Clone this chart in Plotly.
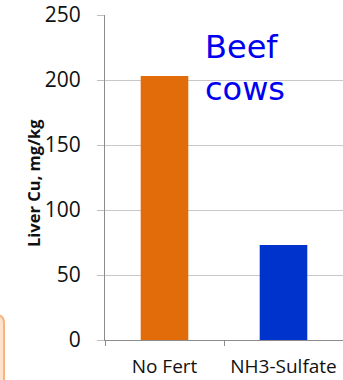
import plotly.graph_objects as go

# Liver copper by fertiliser treatment
treatments = ["No Fert", "NH3-Sulfate"]
liver_cu = [203, 73]
bar_colors = ["#E36C0A", "#0033CC"]
y_ticks = [0, 50, 100, 150, 200, 250]

W, H = 343, 380
L, R, T, B = 105, 0, 15, 40
plot_w = W - L - R
plot_h = H - T - B


def px_x(p):
    return (p - L) / plot_w


def px_y(p):
    return (H - B - p) / plot_h


fig = go.Figure(
    go.Bar(
        x=treatments,
        y=liver_cu,
        marker=dict(color=bar_colors, line=dict(width=0)),
        width=0.4,
    )
)

# corner of a rounded callout box peeking in at the lower left
x0, x1 = px_x(-12), px_x(4)
yt, yb = px_y(315), px_y(400)
rx, ry = 8 / plot_w, 8 / plot_h
fig.add_shape(
    type="path",
    xref="paper",
    yref="paper",
    path=(
        f"M {x0},{yb} L {x0},{yt} L {x1 - rx},{yt} "
        f"Q {x1},{yt} {x1},{yt - ry} L {x1},{yb} Z"
    ),
    fillcolor="#FDE3CB",
    line=dict(color="#F8B47C", width=2),
    layer="above",
)

fig.add_annotation(
    text="Beef<br>cows",
    xref="paper",
    yref="paper",
    x=px_x(203),
    y=px_y(26),
    xanchor="left",
    yanchor="top",
    align="left",
    showarrow=False,
    font=dict(family="Comic Sans MS, DejaVu Sans", size=32, color="#0000F0"),
)

fig.add_annotation(
    text="<b>Liver Cu, mg/kg</b>",
    xref="paper",
    yref="paper",
    x=px_x(33),
    y=px_y(183),
    xanchor="center",
    yanchor="middle",
    textangle=-90,
    showarrow=False,
    font=dict(family="Open Sans", size=16.5, color="#111111"),
)

fig.update_layout(
    width=W,
    height=H,
    margin=dict(l=L, r=R, t=T, b=B, pad=0, autoexpand=False),
    paper_bgcolor="white",
    plot_bgcolor="white",
    showlegend=False,
    bargap=0.6,
    font=dict(family="Open Sans", color="#111111"),
)

fig.update_xaxes(
    showline=True,
    linecolor="#8C8C8C",
    linewidth=1,
    ticks="outside",
    tickson="boundaries",
    ticklen=5,
    tickcolor="#8C8C8C",
    showgrid=False,
    tickfont=dict(size=19),
    ticklabelstandoff=9,
    automargin=False,
)

fig.update_yaxes(
    range=[0, 250],
    tickvals=y_ticks,
    showline=True,
    linecolor="#8C8C8C",
    linewidth=1,
    ticks="outside",
    ticklen=7,
    tickcolor="#BFBFBF",
    showgrid=True,
    gridcolor="#C8C8C8",
    gridwidth=1,
    zeroline=False,
    tickfont=dict(size=21),
    ticklabelstandoff=12,
    automargin=False,
)

fig.write_html("out.html")
